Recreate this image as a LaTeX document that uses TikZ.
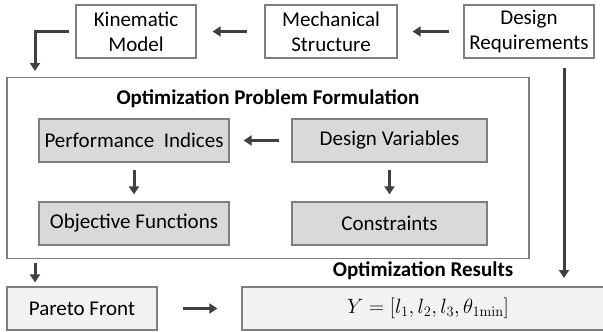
\documentclass[tikz,border=0pt]{standalone}
\usepackage{amsmath}
\usepackage[no-math]{fontspec}
\setmainfont{Carlito}
\usepackage{tikz}
\usetikzlibrary{arrows.meta, positioning, calc}

\definecolor{edgegray}{HTML}{7F7F7F}
\definecolor{arrowgray}{HTML}{404040}
\definecolor{boxgray}{HTML}{D9D9D9}
\definecolor{palegray}{HTML}{F2F2F2}

\begin{document}
\begin{tikzpicture}[
  x=1pt, y=-1pt,
  every node/.style={font=\fontsize{21}{25}\selectfont},
  topbox/.style={rectangle, draw=edgegray, line width=1.3pt, fill=white, align=center, inner sep=0pt},
  innerbox/.style={rectangle, draw=edgegray, line width=1.3pt, fill=boxgray, minimum width=190pt, minimum height=43pt, inner sep=0pt},
  resbox/.style={rectangle, draw=edgegray, line width=1.3pt, fill=palegray, minimum height=43pt, inner sep=0pt},
  frame/.style={rectangle, draw=edgegray, line width=1.3pt, inner sep=0pt},
  arr/.style={arrowgray, line width=3pt, -{Triangle[length=8pt, width=10pt]}}
]
  \useasboundingbox (0,0) rectangle (603,332);
  \clip (0,0) rectangle (603,332);

  % top row
  \node[topbox, minimum width=120pt, minimum height=53pt] (kin) at (136,31.5) {Kinematic\\Model};
  \node[topbox, minimum width=132pt, minimum height=53pt] (mech) at (331,31.5) {Mechanical\\Structure};
  \node[topbox, minimum width=130pt, minimum height=53pt] (req) at (529,31.5) {Design\\Requirements};

  % formulation block
  \node[frame, minimum width=522pt, minimum height=181pt, fill=white] (opf) at (268,168) {};
  \node[font=\fontsize{21}{25}\selectfont\bfseries] (opftitle) at (268,99) {Optimization Problem Formulation};
  \node[innerbox] (perf) at (134,140.5) {Performance\ \ Indices};
  \node[innerbox, minimum width=195pt] (dvar) at (389.5,140.5) {Design Variables};
  \node[innerbox] (obj) at (134,223.5) {Objective Functions};
  \node[innerbox, minimum width=195pt] (cons) at (389.5,223.5) {Constraints};

  % results
  \node[resbox, minimum width=150pt] (pareto) at (82,308.5) {Pareto Front};
  \node[resbox, minimum width=372pt] (res) at (428,308.5) {$Y=[l_1,l_2,l_3,\theta_{1\mathrm{min}}]$};
  \node[font=\fontsize{21}{25}\selectfont\bfseries] (restitle) at (423,271) {Optimization Results};

  % free ends of the bent arrows
  \coordinate (kdrop) at (35,71);
  \coordinate (rdrop) at (564,278);

  % connectors
  \draw[arr, shorten <=17pt, shorten >=16pt] (mech.west) -- (kin.east);
  \draw[arr, shorten <=14pt, shorten >=15pt] (req.west) -- (mech.east);
  \draw[arr, shorten <=6pt] (kin.west) -| (kdrop);
  \draw[arr, shorten <=9pt] (req.south -| rdrop) -- (rdrop);
  \draw[arr, shorten <=12pt, shorten >=14pt] (dvar.west) -- (perf.east);
  \draw[arr, shorten <=7pt, shorten >=7pt] (perf.south) -- (obj.north);
  \draw[arr, shorten <=7pt, shorten >=7pt] (dvar.south) -- (cons.north);
  \draw[arr, shorten <=4pt, shorten >=4pt] (opf.south -| kdrop) -- (pareto.north -| kdrop);
  \draw[arr, shorten <=25pt, shorten >=24pt] (pareto.east) -- (res.west);
\end{tikzpicture}
\end{document}
